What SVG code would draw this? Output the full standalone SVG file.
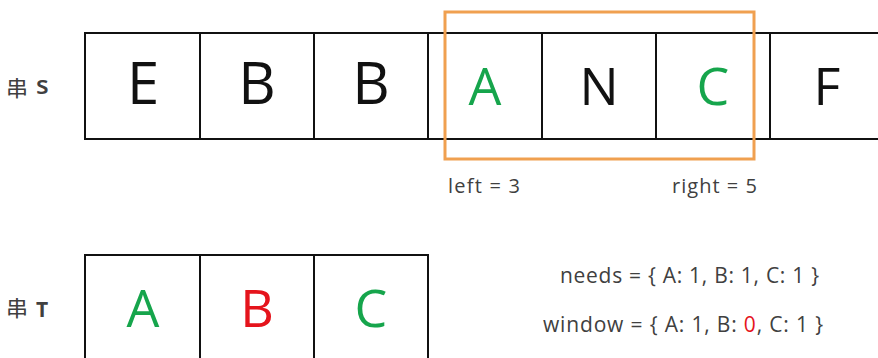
<svg xmlns="http://www.w3.org/2000/svg" width="878" height="358" viewBox="0 0 878 358">
<style>
.cell{fill:#fff;stroke:#111;stroke-width:2}
.ch{font-family:"Open Sans","Liberation Sans",sans-serif;font-size:52px;text-anchor:middle;fill:#111}
.big{font-size:58px}
.g{fill:#16a54c}
.r{fill:#e5141c}
.lbl{font-family:"Open Sans","Liberation Sans",sans-serif;fill:#404040}
.cjk{font-family:"Noto Sans CJK SC",sans-serif;font-size:22px;fill:#404040}
.win{fill:none;stroke:#f0a050;stroke-width:3}
</style>
<rect width="878" height="358" fill="#fff"/>
<g id="labelS"><text x="6" y="96" class="cjk">串</text><text x="36" y="94" class="lbl" font-size="26" font-weight="600">s</text></g>
<g id="labelT"><text x="6" y="316" class="cjk">串</text><text x="36" y="317" class="lbl" font-size="21" font-weight="bold">T</text></g>
<g id="s0"><rect class="cell" x="85" y="33" width="115" height="106"/><text class="ch big" x="143" y="104">E</text></g>
<g id="s1"><rect class="cell" x="200" y="33" width="114" height="106"/><text class="ch big" x="257" y="104">B</text></g>
<g id="s2"><rect class="cell" x="314" y="33" width="114" height="106"/><text class="ch big" x="371" y="104">B</text></g>
<g id="s3"><rect class="cell" x="428" y="33" width="114" height="106"/><text class="ch g" x="485" y="105">A</text></g>
<g id="s4"><rect class="cell" x="542" y="33" width="114" height="106"/><text class="ch" x="599" y="105">N</text></g>
<g id="s5"><rect class="cell" x="656" y="33" width="114" height="106"/><text class="ch g" x="713" y="105">C</text></g>
<g id="s6"><rect class="cell" x="770" y="33" width="140" height="106"/><text class="ch" x="827" y="105">F</text></g>
<g id="window"><rect class="win" x="445" y="12" width="309" height="147"/></g>
<g id="pointers">
<text class="lbl" x="448" y="193" font-size="20" textLength="72">left = 3</text>
<text class="lbl" x="672" y="193" font-size="20" textLength="85">right = 5</text>
</g>
<g id="t0"><rect class="cell" x="85" y="255" width="115" height="120"/><text class="ch g" x="143" y="327">A</text></g>
<g id="t1"><rect class="cell" x="200" y="255" width="114" height="120"/><text class="ch r" x="257" y="327">B</text></g>
<g id="t2"><rect class="cell" x="314" y="255" width="114" height="120"/><text class="ch g" x="371" y="327">C</text></g>
<g id="maps">
<text class="lbl" x="560" y="283" font-size="21" textLength="259">needs = { A: 1, B: 1, C: 1 }</text>
<text class="lbl" x="543" y="332" font-size="21" textLength="280">window = { A: 1, B: <tspan class="r">0</tspan>, C: 1 }</text>
</g>
<g id="connectors"/>
</svg>
